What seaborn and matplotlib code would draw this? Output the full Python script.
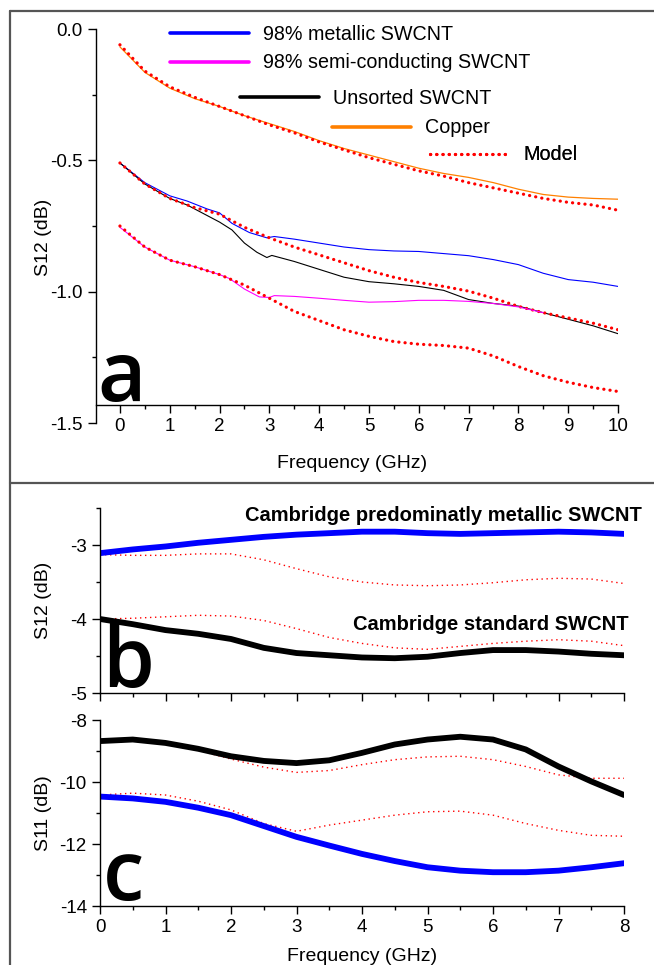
import matplotlib
matplotlib.use("Agg")
import matplotlib.pyplot as plt
from matplotlib.lines import Line2D
from matplotlib.ticker import MultipleLocator
import seaborn as sns

# ---- panel a: S12 vs frequency (0-10 GHz) ----
freq_a = [0, 0.5, 1, 1.5, 2, 2.5, 3, 3.5, 4, 4.5, 5, 5.5, 6, 6.5, 7, 7.5, 8, 8.5, 9, 9.5, 10]
copper = [-0.068, -0.165, -0.225, -0.265, -0.295, -0.33, -0.36, -0.39, -0.425, -0.455, -0.48,
          -0.505, -0.53, -0.55, -0.565, -0.585, -0.61, -0.63, -0.64, -0.645, -0.648]
copper_model = [-0.06, -0.16, -0.22, -0.26, -0.295, -0.33, -0.365, -0.395, -0.43, -0.46, -0.49,
                -0.515, -0.54, -0.56, -0.585, -0.605, -0.625, -0.645, -0.66, -0.67, -0.69]
freq_met = [0, 0.5, 1, 1.35, 1.75, 2.0, 2.25, 2.6, 2.95, 3.1, 3.5, 4, 4.5, 5, 5.5, 6, 6.5, 7,
            7.5, 8, 8.5, 9, 9.5, 10]
metallic = [-0.51, -0.585, -0.635, -0.655, -0.685, -0.70, -0.74, -0.775, -0.795, -0.79, -0.80,
            -0.815, -0.83, -0.84, -0.845, -0.847, -0.855, -0.863, -0.878, -0.897, -0.93, -0.954,
            -0.964, -0.98]
freq_uns = [0, 0.5, 1, 1.35, 1.75, 2.0, 2.25, 2.5, 2.75, 2.95, 3.05, 3.5, 4, 4.5, 5, 5.5, 6, 6.5,
            7, 7.5, 8, 8.5, 9, 9.5, 10]
unsorted = [-0.51, -0.59, -0.645, -0.67, -0.71, -0.735, -0.765, -0.815, -0.85, -0.87, -0.862,
            -0.885, -0.915, -0.945, -0.962, -0.97, -0.98, -0.995, -1.03, -1.045, -1.055, -1.08,
            -1.105, -1.13, -1.16]
mid_model = [-0.51, -0.59, -0.645, -0.68, -0.705, -0.755, -0.795, -0.83, -0.86, -0.89, -0.92,
             -0.945, -0.965, -0.98, -0.998, -1.025, -1.056, -1.08, -1.10, -1.12, -1.145]
freq_semi = [0, 0.5, 1, 1.5, 2, 2.2, 2.5, 2.8, 3.0, 3.1, 3.5, 4, 4.5, 5, 5.5, 6, 6.5, 7, 7.5,
             8, 8.5]
semi = [-0.755, -0.83, -0.88, -0.905, -0.935, -0.95, -0.99, -1.02, -1.022, -1.015, -1.018,
        -1.025, -1.033, -1.04, -1.038, -1.033, -1.033, -1.037, -1.045, -1.058, -1.08]
semi_model = [-0.75, -0.83, -0.88, -0.905, -0.935, -0.975, -1.025, -1.075, -1.11, -1.145, -1.17,
              -1.19, -1.20, -1.205, -1.215, -1.245, -1.285, -1.32, -1.345, -1.365, -1.38]

# ---- panels b, c: Cambridge samples (0-8 GHz) ----
freq_bc = [0, 0.5, 1, 1.5, 2, 2.5, 3, 3.5, 4, 4.5, 5, 5.5, 6, 6.5, 7, 7.5, 8]
s12_met = [-3.11, -3.06, -3.02, -2.97, -2.93, -2.89, -2.86, -2.84, -2.82, -2.82, -2.84, -2.85,
           -2.84, -2.83, -2.82, -2.83, -2.85]
s12_met_model = [-3.13, -3.14, -3.14, -3.12, -3.12, -3.20, -3.32, -3.43, -3.50, -3.54, -3.55,
                 -3.54, -3.51, -3.47, -3.45, -3.46, -3.52]
s12_std = [-4.0, -4.07, -4.15, -4.20, -4.27, -4.39, -4.46, -4.49, -4.52, -4.53, -4.51, -4.46,
           -4.42, -4.42, -4.44, -4.47, -4.49]
s12_std_model = [-4.0, -3.99, -3.97, -3.95, -3.96, -4.02, -4.13, -4.25, -4.33, -4.39, -4.41,
                 -4.37, -4.33, -4.30, -4.28, -4.30, -4.36]
s11_std = [-8.68, -8.63, -8.74, -8.93, -9.17, -9.32, -9.39, -9.30, -9.06, -8.79, -8.63, -8.54,
           -8.63, -8.95, -9.50, -9.98, -10.42]
s11_std_model = [-8.68, -8.63, -8.75, -8.98, -9.26, -9.52, -9.69, -9.63, -9.44, -9.28, -9.19,
                 -9.17, -9.28, -9.50, -9.77, -9.88, -9.88]
s11_met = [-10.47, -10.53, -10.64, -10.83, -11.07, -11.42, -11.77, -12.05, -12.32, -12.55, -12.75,
           -12.86, -12.91, -12.91, -12.86, -12.75, -12.62]
s11_met_model = [-10.42, -10.36, -10.42, -10.62, -10.90, -11.34, -11.59, -11.39, -11.23, -11.07,
                 -10.96, -10.94, -11.07, -11.34, -11.56, -11.72, -11.75]

sns.set_style("ticks")
plt.rcParams['font.family'] = ['Liberation Sans', 'DejaVu Sans']
plt.rcParams['axes.unicode_minus'] = False
plt.rcParams['axes.linewidth'] = 1.0
for k in ['text.color', 'axes.labelcolor', 'xtick.color', 'ytick.color', 'axes.edgecolor']:
    plt.rcParams[k] = 'black'
for k in ['xtick.major.width', 'ytick.major.width', 'xtick.minor.width', 'ytick.minor.width']:
    plt.rcParams[k] = 1.0

W, H = 654, 965
fig = plt.figure(figsize=(W / 100, H / 100), dpi=100)

BLUE, MAG, ORANGE, RED = '#0000ff', '#ff00ff', '#ff8000', '#ff0000'
dots_big = dict(color=RED, linewidth=2.3, linestyle=(0, (0.05, 1.9)), dash_capstyle='round')
dots_thin = dict(color=RED, linewidth=1.0, linestyle=(0, (1.0, 2.6)))
TICK_FS, LABEL_FS = 13.5, 14


def style_axis(ax):
    sns.despine(ax=ax)
    ax.tick_params(which='major', direction='out', length=6, pad=3.5, labelsize=TICK_FS,
                   colors='black')
    ax.tick_params(which='minor', direction='out', length=3)
    ax.set_facecolor('none')


# panel a
ax_a = fig.add_axes([96 / W, 1 - 423 / H, 522 / W, 394 / H])
sns.lineplot(x=freq_a, y=copper, ax=ax_a, color=ORANGE, linewidth=0.9)
sns.lineplot(x=freq_a, y=copper_model, ax=ax_a, **dots_big)
sns.lineplot(x=freq_met, y=metallic, ax=ax_a, color=BLUE, linewidth=0.8)
sns.lineplot(x=freq_uns, y=unsorted, ax=ax_a, color='black', linewidth=0.8)
sns.lineplot(x=freq_a, y=mid_model, ax=ax_a, **dots_big)
sns.lineplot(x=freq_semi, y=semi, ax=ax_a, color=MAG, linewidth=0.8)
sns.lineplot(x=freq_a, y=semi_model, ax=ax_a, **dots_big)
ax_a.set_xlim(-0.48, 10)
ax_a.set_ylim(-1.5, 0.0)
ax_a.set_xticks(range(0, 11))
ax_a.xaxis.set_minor_locator(MultipleLocator(0.5))
ax_a.set_yticks([0.0, -0.5, -1.0, -1.5])
ax_a.set_yticklabels(['0.0', '-0.5', '-1.0', '-1.5'])
ax_a.yaxis.set_minor_locator(MultipleLocator(0.25))
style_axis(ax_a)
ax_a.spines['bottom'].set_position(('data', -1.43))
ax_a.set_xlabel('Frequency (GHz)', fontsize=LABEL_FS)
ax_a.set_ylabel('S12 (dB)', fontsize=LABEL_FS)
ax_a.xaxis.set_label_coords(0.49, -0.082)
ax_a.yaxis.set_label_coords(-0.084, 0.47)
ax_a.text(0.002, 0.055, 'a', transform=ax_a.transAxes, fontsize=60, family='Open Sans',
          fontweight='semibold', ha='left', va='baseline')

fs_leg = 14.2
px_per_em = fs_leg * 100 / 72
legend_rows = [
    (Line2D([], [], color=BLUE, lw=2.6), '98% metallic SWCNT', 170, 34),
    (Line2D([], [], color=MAG, lw=2.6), '98% semi-conducting SWCNT', 170, 63),
    (Line2D([], [], color='black', lw=2.6), 'Unsorted SWCNT', 240, 98),
    (Line2D([], [], color=ORANGE, lw=2.6), 'Copper', 332, 128),
    (Line2D([], [], **dots_big), 'Model', 430, 155),
]
for handle, label, x0, y0 in legend_rows:
    leg = ax_a.legend(handles=[handle], labels=[label], loc='center left',
                      bbox_to_anchor=(x0 / W, 1 - y0 / H), bbox_transform=fig.transFigure,
                      frameon=False, fontsize=fs_leg, handlelength=79 / px_per_em,
                      handletextpad=14 / px_per_em, borderpad=0, borderaxespad=0)
    ax_a.add_artist(leg)

# panel b
ax_b = fig.add_axes([100 / W, 1 - 693 / H, 524 / W, 185 / H])
sns.lineplot(x=freq_bc, y=s12_met_model, ax=ax_b, **dots_thin)
sns.lineplot(x=freq_bc, y=s12_std_model, ax=ax_b, **dots_thin)
sns.lineplot(x=freq_bc, y=s12_met, ax=ax_b, color=BLUE, linewidth=4.2)
sns.lineplot(x=freq_bc, y=s12_std, ax=ax_b, color='black', linewidth=4.2)
ax_b.set_xlim(0, 8)
ax_b.set_ylim(-5, -2.5)
ax_b.set_xticks(range(0, 9))
ax_b.set_xticklabels([])
ax_b.xaxis.set_minor_locator(MultipleLocator(0.5))
ax_b.set_yticks([-3, -4, -5])
ax_b.yaxis.set_minor_locator(MultipleLocator(0.5))
style_axis(ax_b)
ax_b.set_ylabel('S12 (dB)', fontsize=LABEL_FS)
ax_b.yaxis.set_label_coords(-0.092, 0.5)
ax_b.text(8.27, -2.6, 'Cambridge predominatly metallic SWCNT', fontsize=14.5, fontweight='bold',
          ha='right', va='center', clip_on=False)
ax_b.text(8.07, -4.07, 'Cambridge standard SWCNT', fontsize=14.5, fontweight='bold',
          ha='right', va='center', clip_on=False)
ax_b.text(0.005, 0.03, 'b', transform=ax_b.transAxes, fontsize=60, family='Open Sans',
          fontweight='semibold', ha='left', va='baseline')

# panel c
ax_c = fig.add_axes([100 / W, 1 - 906 / H, 524 / W, 186 / H])
sns.lineplot(x=freq_bc, y=s11_std_model, ax=ax_c, **dots_thin)
sns.lineplot(x=freq_bc, y=s11_met_model, ax=ax_c, **dots_thin)
sns.lineplot(x=freq_bc, y=s11_std, ax=ax_c, color='black', linewidth=4.2)
sns.lineplot(x=freq_bc, y=s11_met, ax=ax_c, color=BLUE, linewidth=4.2)
ax_c.set_xlim(0, 8)
ax_c.set_ylim(-14, -8)
ax_c.set_xticks(range(0, 9))
ax_c.xaxis.set_minor_locator(MultipleLocator(0.5))
ax_c.set_yticks([-8, -10, -12, -14])
ax_c.yaxis.set_minor_locator(MultipleLocator(1))
style_axis(ax_c)
ax_c.set_xlabel('Frequency (GHz)', fontsize=LABEL_FS)
ax_c.set_ylabel('S11 (dB)', fontsize=LABEL_FS)
ax_c.xaxis.set_label_coords(0.5, -0.225)
ax_c.yaxis.set_label_coords(-0.092, 0.5)
ax_c.text(0.005, 0.03, 'c', transform=ax_c.transAxes, fontsize=60, family='Open Sans',
          fontweight='semibold', ha='left', va='baseline')

# panel frames
frame = dict(transform=fig.transFigure, color='#555555', lw=1.6)
fig.add_artist(Line2D([10 / W, 1], [1 - 11 / H] * 2, **frame))
fig.add_artist(Line2D([10 / W, 1], [1 - 483 / H] * 2, **frame))
fig.add_artist(Line2D([10 / W] * 2, [0, 1 - 11 / H], **frame))

fig.savefig('out.png', dpi=100)
